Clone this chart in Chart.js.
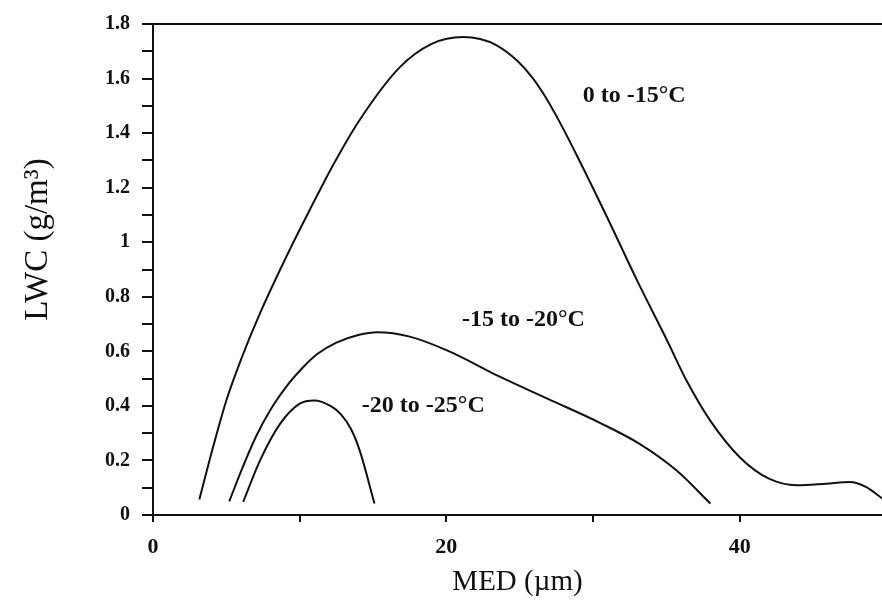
<!DOCTYPE html>
<html>
<head>
<meta charset="utf-8">
<title>LWC vs MED</title>
<script src="https://cdn.jsdelivr.net/npm/chart.js@4.4.1/dist/chart.umd.min.js"></script>
<style>
  html, body { margin: 0; padding: 0; background: #fff; overflow: hidden; }
  canvas { display: block; }
</style>
</head>
<body>
<canvas id="lwcChart" width="882" height="606"></canvas>
<script>
// ===== LWC vs MED envelopes by temperature range =====

// 0 to -15°C
const medWarm = [3.16, 4.1, 5, 6, 7.3, 9.3, 10.7, 12.3, 14, 16.8, 19, 21.15, 22.3, 23.4, 24.8, 25.9, 26.8, 27.7, 29, 31, 33, 35, 36.4, 38, 40, 42, 43.9, 45.9, 47.5, 48.6, 49.7];
const lwcWarm = [0.057, 0.25, 0.42, 0.57, 0.74, 0.97, 1.12, 1.285, 1.441, 1.64, 1.727, 1.752, 1.745, 1.723, 1.667, 1.601, 1.529, 1.443, 1.307, 1.087, 0.86, 0.645, 0.49, 0.345, 0.212, 0.133, 0.109, 0.115, 0.121, 0.103, 0.061];

// -15 to -20°C
const medMid = [5.2, 6, 7, 8, 9.3, 10.2, 11.2, 12.5, 14, 15.3, 17.5, 20.2, 23.6, 27, 30.5, 33.2, 35.7, 38];
const lwcMid = [0.05, 0.16, 0.285, 0.385, 0.485, 0.54, 0.59, 0.632, 0.66, 0.67, 0.654, 0.60, 0.508, 0.424, 0.337, 0.26, 0.163, 0.042];

// -20 to -25°C
const medCold = [6.15, 7.3, 8.65, 10, 11, 12.1, 12.8, 13.5, 14.1, 15.1];
const lwcCold = [0.048, 0.2, 0.333, 0.408, 0.42, 0.40, 0.37, 0.315, 0.235, 0.042];

const seriesNames = ["0 to -15°C", "-15 to -20°C", "-20 to -25°C"];
const xTickLabels = [0, 20, 40];
const yTickLabels = [0, 0.2, 0.4, 0.6, 0.8, 1, 1.2, 1.4, 1.6, 1.8];

const toPoints = (xs, ys) => xs.map((v, i) => ({ x: v, y: ys[i] }));

const serif = '"Liberation Serif", "Times New Roman", serif';
const ink = "#111";

// curve labels sit next to each curve (data coordinates)
const curveLabels = [
    { text: seriesNames[0], x: 29.3, y: 1.536 },
    { text: seriesNames[1], x: 21.06, y: 0.716 },
    { text: seriesNames[2], x: 14.24, y: 0.40 }
];

const labelPlugin = {
    id: "curveLabels",
    afterDraw(chart) {
        const { ctx, scales: { x, y } } = chart;
        ctx.save();
        ctx.fillStyle = ink;
        ctx.font = "bold 24px " + serif;
        ctx.textBaseline = "middle";
        ctx.textAlign = "left";
        curveLabels.forEach(l => {
            ctx.fillText(l.text, x.getPixelForValue(l.x), y.getPixelForValue(l.y));
        });

        // y axis title, rotated
        ctx.font = "33px " + serif;
        ctx.textAlign = "center";
        ctx.translate(38, y.getPixelForValue(1.01));
        ctx.rotate(-Math.PI / 2);
        ctx.fillText("LWC (g/m³)", 0, 0);
        ctx.restore();
    }
};

const lineStyle = {
    borderColor: ink,
    borderWidth: 2,
    pointRadius: 0,
    showLine: true,
    fill: false,
    cubicInterpolationMode: "monotone"
};

new Chart(document.getElementById("lwcChart").getContext("2d"), {
    type: "scatter",
    data: {
        datasets: [
            { label: seriesNames[0], data: toPoints(medWarm, lwcWarm), ...lineStyle },
            { label: seriesNames[1], data: toPoints(medMid, lwcMid), ...lineStyle },
            { label: seriesNames[2], data: toPoints(medCold, lwcCold), ...lineStyle }
        ]
    },
    options: {
        responsive: false,
        animation: false,
        layout: { padding: 0 },
        plugins: {
            legend: { display: false },
            tooltip: { enabled: false }
        },
        scales: {
            x: {
                type: "linear",
                position: "bottom",
                min: 0,
                max: 49.7,
                afterFit: s => { s.height = 91; },
                ticks: {
                    stepSize: 10,
                    includeBounds: false,
                    autoSkip: false,
                    maxRotation: 0,
                    padding: 12,
                    color: ink,
                    font: { family: serif, size: 22, weight: "bold" },
                    callback: v => (xTickLabels.includes(v) ? String(v) : "")
                },
                grid: { drawOnChartArea: false, tickLength: 7, color: ink, lineWidth: 2 },
                border: { color: ink, width: 2 },
                title: {
                    display: true,
                    text: "MED (µm)",
                    color: ink,
                    font: { family: serif, size: 29 },
                    padding: { top: 0, bottom: 6 }
                }
            },
            xTop: {
                type: "linear",
                position: "top",
                min: 0,
                max: 49.7,
                afterFit: s => { s.height = 19; },
                ticks: { display: false },
                grid: { display: false },
                border: { color: ink, width: 2 }
            },
            y: {
                type: "linear",
                min: 0,
                max: 1.8,
                afterFit: s => { s.width = 153; },
                ticks: {
                    stepSize: 0.1,
                    autoSkip: false,
                    padding: 12,
                    color: ink,
                    font: { family: serif, size: 20, weight: "bold" },
                    callback: v => {
                        const r = Number(v.toFixed(1));
                        return yTickLabels.includes(r) ? String(r) : "";
                    }
                },
                grid: { drawOnChartArea: false, tickLength: 11, color: ink, lineWidth: 2 },
                border: { color: ink, width: 2 }
            }
        }
    },
    plugins: [labelPlugin]
});
</script>
</body>
</html>
